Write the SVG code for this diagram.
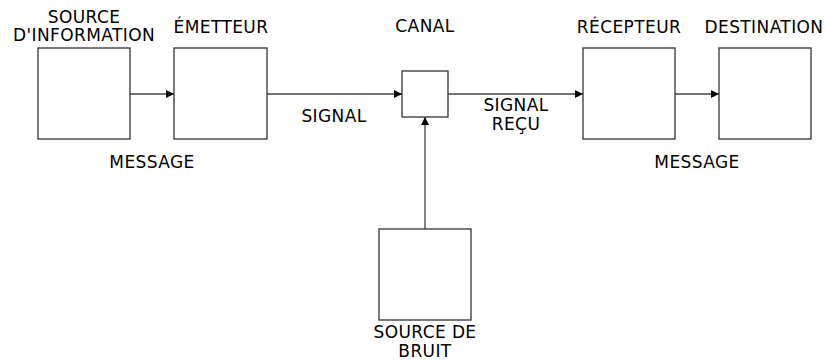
<svg xmlns="http://www.w3.org/2000/svg" width="826" height="360" viewBox="0 0 826 360">
<style>
.box{fill:#fff;stroke:#333;stroke-width:1.3}
.ln{stroke:#444;stroke-width:1.3;fill:none;marker-end:url(#ah)}
text{font-family:"DejaVu Sans",sans-serif;font-size:17px;letter-spacing:0.4px;fill:#000;text-anchor:middle}
</style>
<defs>
<marker id="ah" viewBox="0 0 10 10" refX="10" refY="5" markerUnits="userSpaceOnUse" markerWidth="9" markerHeight="8" orient="auto">
<path d="M0,0 L10,5 L0,10 Z" fill="#000"/>
</marker>
</defs>
<rect width="826" height="360" fill="#fff"/>
<g id="connectors">
<line class="ln" x1="130" y1="94" x2="174" y2="94"/>
<line class="ln" x1="267" y1="94" x2="402" y2="94"/>
<line class="ln" x1="448" y1="94" x2="583" y2="94"/>
<line class="ln" x1="675" y1="94" x2="719" y2="94"/>
<line class="ln" x1="425" y1="229" x2="425" y2="117"/>
</g>
<g id="source">
<rect class="box" x="38" y="48" width="92" height="91"/>
<text x="84" y="23">SOURCE</text>
<text x="84" y="41">D'INFORMATION</text>
</g>
<g id="emetteur">
<rect class="box" x="174" y="48" width="93" height="91"/>
<text x="221" y="33">ÉMETTEUR</text>
</g>
<g id="canal">
<rect class="box" x="402" y="71" width="46" height="46"/>
<text x="425" y="32">CANAL</text>
</g>
<g id="recepteur">
<rect class="box" x="583" y="48" width="92" height="91"/>
<text x="629" y="33">RÉCEPTEUR</text>
</g>
<g id="destination">
<rect class="box" x="719" y="48" width="92" height="91"/>
<text x="764" y="33">DESTINATION</text>
</g>
<g id="bruit">
<rect class="box" x="379" y="229" width="92" height="91"/>
<text x="425" y="337.5">SOURCE DE</text>
<text x="425" y="357">BRUIT</text>
</g>
<g id="labels">
<text x="152" y="168">MESSAGE</text>
<text x="334" y="122">SIGNAL</text>
<text x="516" y="111">SIGNAL</text>
<text x="516" y="130">REÇU</text>
<text x="697" y="168">MESSAGE</text>
</g>
</svg>
